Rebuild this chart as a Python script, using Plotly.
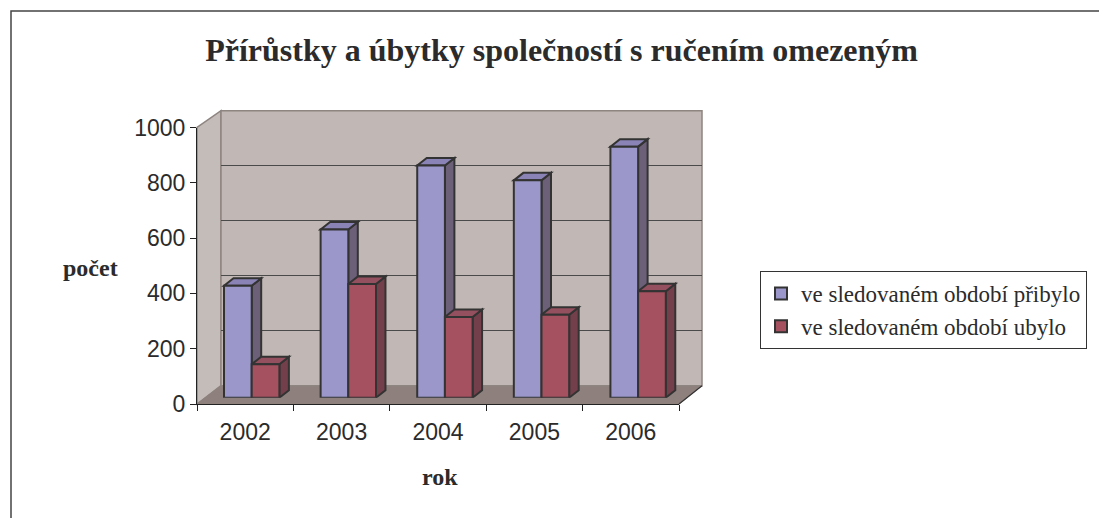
import plotly.graph_objects as go

# Data
roky = ["2002", "2003", "2004", "2005", "2006"]
pribylo = [405, 608, 840, 786, 908]
ubylo = [121, 411, 292, 300, 385]
y_ticks = [0, 200, 400, 600, 800, 1000]
grid_vals = [200, 400, 600, 800]

W, H = 1099, 518
SERIF = "Liberation Serif, Times New Roman, serif"
SANS = "Liberation Sans, Arial, sans-serif"
TXT = "#2b2b2b"
EDGE = "#333333"

# Pseudo-3D geometry (pixels in the page)
FRONT = dict(x0=197, x1=679, y0=404, y1=127.5)      # front axes box
BACK = dict(x0=221, x1=702, y0=385.7, y1=110.7)      # back wall
BARS = dict(x0=203.4, x1=686.4, y0=397.7, y1=121.2)  # plane of bar front faces
DEPTH_X, DEPTH_Y = 9.5, 7.5                          # bar depth in px
BARGAP = 0.427

COLORS = {
    "blue": ("#9b97ca", "#6c6079", "#8a83b5"),   # front, side, top
    "red": ("#a6515f", "#733f4a", "#94505e"),
}


def fx(x):
    return x / W


def fy(y):
    return 1 - y / H


fig = go.Figure()

# empty traces so that the wall grid and the front axes get drawn
fig.add_trace(go.Scatter(x=[], y=[], xaxis="x", yaxis="y", showlegend=False, hoverinfo="skip"))
fig.add_trace(go.Scatter(x=[], y=[], xaxis="x2", yaxis="y2", showlegend=False, hoverinfo="skip"))

fig.add_trace(go.Bar(
    x=roky, y=pribylo, name="ve sledovaném období přibylo",
    marker=dict(color=COLORS["blue"][0], line=dict(color=EDGE, width=2)),
    xaxis="x3", yaxis="y3",
))
fig.add_trace(go.Bar(
    x=roky, y=ubylo, name="ve sledovaném období ubylo",
    marker=dict(color=COLORS["red"][0], line=dict(color=EDGE, width=2)),
    xaxis="x3", yaxis="y3",
))

# side and top faces of the bars, in bar-axis units
cat_px = (BARS["x1"] - BARS["x0"]) / len(roky)
val_px = (BARS["y0"] - BARS["y1"]) / 1000
dx = DEPTH_X / cat_px
dy = DEPTH_Y / val_px
bw = (1 - BARGAP) / 2

shapes = []
# chart frame
shapes.append(dict(type="rect", xref="paper", yref="paper",
                   x0=fx(11), x1=fx(1120), y0=fy(11), y1=fy(540),
                   line=dict(color="#444444", width=1.5), layer="below"))
# left wall
shapes.append(dict(type="path", xref="paper", yref="paper", layer="below",
                   path=(f"M {fx(FRONT['x0'])},{fy(FRONT['y0'])} L {fx(FRONT['x0'])},{fy(FRONT['y1'])} "
                         f"L {fx(BACK['x0'])},{fy(BACK['y1'])} L {fx(BACK['x0'])},{fy(BACK['y0'])} Z"),
                   fillcolor="#c4bcb9", line=dict(color="#8e8480", width=1.5)))
# floor
shapes.append(dict(type="path", xref="paper", yref="paper", layer="below",
                   path=(f"M {fx(FRONT['x0'])},{fy(FRONT['y0'])} L {fx(BACK['x0'])},{fy(BACK['y0'])} "
                         f"L {fx(BACK['x1'])},{fy(BACK['y0'])} L {fx(FRONT['x1'])},{fy(FRONT['y0'])} Z"),
                   fillcolor="#8e817d", line=dict(color="#8e817d", width=1)))
# back wall
shapes.append(dict(type="rect", xref="paper", yref="paper", layer="below",
                   x0=fx(BACK["x0"]), x1=fx(BACK["x1"]), y0=fy(BACK["y0"]), y1=fy(BACK["y1"]),
                   fillcolor="#c1b8b5", line=dict(color="#8e8480", width=1.5)))
# floor right edge
shapes.append(dict(type="line", xref="paper", yref="paper", layer="below",
                   x0=fx(FRONT['x1']), y0=fy(FRONT['y0']), x1=fx(BACK['x1']), y1=fy(BACK['y0']),
                   line=dict(color=EDGE, width=1.2)))

for series, key, shift in [(pribylo, "blue", -bw), (ubylo, "red", 0)]:
    _, side_c, top_c = COLORS[key]
    for i, v in enumerate(series):
        xl = i + shift
        xr = xl + bw
        side = f"M {xr},0 L {xr+dx},{dy} L {xr+dx},{v+dy} L {xr},{v} Z"
        top = f"M {xl},{v} L {xr},{v} L {xr+dx},{v+dy} L {xl+dx},{v+dy} Z"
        for p, c in [(side, side_c), (top, top_c)]:
            shapes.append(dict(type="path", path=p, xref="x3", yref="y3",
                               fillcolor=c, line=dict(color=EDGE, width=2),
                               layer="below"))

fig.update_layout(
    width=W, height=H,
    margin=dict(l=0, r=0, t=0, b=0, autoexpand=False),
    paper_bgcolor="white",
    plot_bgcolor="rgba(0,0,0,0)",
    barmode="group", bargap=BARGAP, bargroupgap=0,
    font=dict(family=SANS, color=TXT),
    title=dict(text="<b>Přírůstky a úbytky společností s ručením omezeným</b>",
               x=0.511, xanchor="center", y=fy(50), yanchor="middle",
               font=dict(family=SERIF, size=32, color=TXT)),
    # back wall grid
    xaxis=dict(domain=[fx(BACK["x0"]), fx(BACK["x1"])], range=[0, 1], automargin=False,
               showgrid=False, zeroline=False, showticklabels=False, ticks="", anchor="y"),
    yaxis=dict(domain=[fy(BACK["y0"]), fy(BACK["y1"])], range=[0, 1000], automargin=False,
               tickvals=grid_vals, showticklabels=False, ticks="", gridcolor="#4a4a4a",
               gridwidth=1, zeroline=False, anchor="x"),
    # front axes with labels
    xaxis2=dict(domain=[fx(FRONT["x0"]), fx(FRONT["x1"])], range=[-0.5, 4.5], automargin=False,
                tickvals=list(range(len(roky))), ticktext=roky, ticks="",
                showgrid=False, zeroline=False, showline=True, linecolor="#222", linewidth=1.2,
                tickfont=dict(family=SANS, size=23, color=TXT), ticklabelstandoff=7,
                minor=dict(tickvals=[i - 0.5 for i in range(len(roky) + 1)],
                           ticks="outside", ticklen=6, tickcolor="#222", showgrid=False),
                anchor="y2"),
    yaxis2=dict(domain=[fy(FRONT["y0"]), fy(FRONT["y1"])], range=[0, 1000], automargin=False,
                tickvals=y_ticks, ticks="outside", ticklen=6, tickcolor="#222",
                showgrid=False, zeroline=False, showline=True, linecolor="#222", linewidth=1.2,
                tickfont=dict(family=SANS, size=23, color=TXT), ticklabelstandoff=0,
                anchor="x2"),
    # bar plane
    xaxis3=dict(domain=[fx(BARS["x0"]), fx(BARS["x1"])], range=[-0.5, 4.5],
                visible=False, anchor="y3", automargin=False),
    yaxis3=dict(domain=[fy(BARS["y0"]), fy(BARS["y1"])], range=[0, 1000],
                visible=False, anchor="x3", automargin=False),
    shapes=shapes,
    legend=dict(x=fx(760), xanchor="left", y=fy(271), yanchor="top",
                bgcolor="white", bordercolor="#333", borderwidth=1,
                font=dict(family=SERIF, size=23, color=TXT),
                tracegroupgap=0, itemwidth=30),
    annotations=[
        dict(text="<b>počet</b>", x=fx(90), y=fy(268), xref="paper", yref="paper",
             xanchor="center", yanchor="middle",
             showarrow=False, font=dict(family=SERIF, size=24, color=TXT)),
        dict(text="<b>rok</b>", x=fx(440), y=fy(477), xref="paper", yref="paper",
             xanchor="center", yanchor="middle",
             showarrow=False, font=dict(family=SERIF, size=24, color=TXT)),
    ],
)

fig.write_html("out.html", config={"displayModeBar": False},
               post_script="document.body.style.margin='0';")
